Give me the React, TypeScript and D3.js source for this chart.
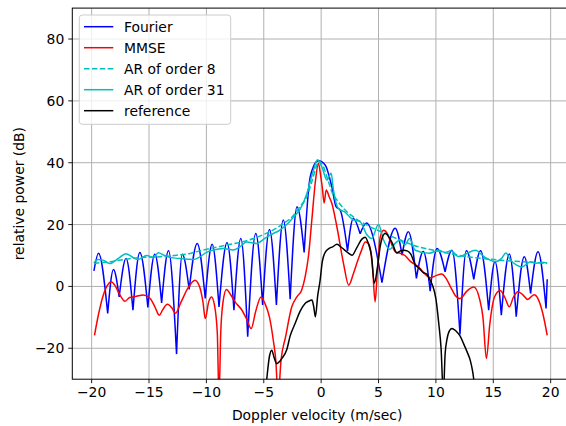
import React from 'react';
import * as d3 from 'd3';

const W = 566;
const H = 426;

const xTicks = [-20, -15, -10, -5, 0, 5, 10, 15, 20];
const yTicks = [-20, 0, 20, 40, 60, 80];
const xLabel = 'Doppler velocity (m/sec)';
const yLabel = 'relative power (dB)';
const seriesNames = ['Fourier', 'MMSE', 'AR of order 8', 'AR of order 31', 'reference'];

const fourier: [number, number][] = [
  [-19.8, 5.0], [-19.4, 10.7], [-18.6, -8.7], [-18.1, 5.5], [-17.6, -3.4], [-17.0, 9], [-16.4, -7.7],
  [-15.8, 11], [-15.1, -6.8], [-14.5, 10.4], [-13.9, -5.3], [-13.3, 11.5], [-12.6, -21.9], [-12.1, 10.4],
  [-11.5, -1], [-10.8, 13.9], [-10.1, -3.9], [-9.5, 13.6], [-8.9, -6.6], [-8.2, 14.2], [-7.6, -7.7],
  [-7.0, 15.5], [-6.4, -16.3], [-5.7, 17.1], [-5.1, -6], [-4.5, 18.4], [-3.9, -6], [-3.3, 21.5],
  [-2.7, -4.1], [-2.1, 25.8], [-1.48, 11], [-0.95, 35.5], [-0.25, 40.6], [0.35, 39.3], [0.93, 32.2],
  [1.3, 25.8], [1.66, 24.7], [2.3, 11.5], [2.8, 22], [3.4, 17], [3.95, 20.5], [5.3, 1.2], [6.45, 18.8],
  [7.05, 10.1], [7.6, 17.7], [8.3, 2.6], [8.9, 11.3], [9.5, -1.5], [10.1, 12.3], [10.8, 4.7], [11.4, 11.7],
  [12.1, -15.5], [12.65, 11.5], [13.3, 2.3], [13.9, 11.5], [14.6, -7.7], [15.15, 8], [15.7, -9.3],
  [16.4, 10.5], [17.0, -9.8], [17.7, 9.6], [18.25, -2.3], [18.9, 11.2], [19.6, -7.1], [19.7, 2.3],
];

const mmse: [number, number][] = [
  [-19.75, -15.8], [-19.4, -9], [-19.0, -3], [-18.6, 0.5], [-18.3, 1.5], [-18.0, 0.5], [-17.5, -3],
  [-17.1, -4.8], [-16.7, -3.6], [-16.1, -3.2], [-15.5, -2.8], [-14.9, -3.9], [-14.5, -6.5], [-14.1, -9.3],
  [-13.8, -7.5], [-13.4, -5.8], [-13.0, -7], [-12.7, -8.7], [-12.2, -5], [-11.6, -0.5], [-11.0, 2.0],
  [-10.6, 0], [-10.3, -5], [-10.1, -10.4], [-9.8, -5], [-9.55, -3.4], [-9.3, -6], [-9.05, -15],
  [-8.9, -36], [-8.75, -15], [-8.55, -5], [-8.25, -1], [-7.9, -2.6], [-7.5, -5], [-6.9, -7.7],
  [-6.5, -10.5], [-6.1, -13.6], [-5.7, -8], [-5.24, -3.4], [-4.9, -5.5], [-4.5, -10], [-4.17, -17.4],
  [-3.95, -24], [-3.75, -36], [-3.5, -24], [-3.1, -16.3], [-2.56, -6.6], [-2.1, -3.3], [-1.7, -1.2],
  [-1.4, 3], [-1.1, 10], [-0.8, 22], [-0.5, 34], [-0.24, 39.8], [-0.05, 36], [0.1, 32], [0.26, 27],
  [0.44, 31.2], [0.7, 29], [0.93, 26.9], [1.37, 19.3], [1.95, 7.4], [2.4, 0.4], [2.8, 4], [3.1, 7.4],
  [3.5, 11.5], [3.84, 14.4], [4.1, 14], [4.3, 11.7], [4.5, 5], [4.7, -5], [4.9, 5], [5.15, 16],
  [5.44, 18.2], [5.7, 17.5], [6.0, 15], [6.46, 11.2], [6.9, 10.7], [7.3, 10], [7.8, 8], [8.2, 7],
  [8.5, 6.3], [8.8, 5], [9.2, 3.5], [9.5, 2.8], [10.0, 3.5], [10.5, 4.0], [10.9, 2.5], [11.3, -0.3],
  [11.7, -3], [12.1, -3.9], [12.7, -1.5], [13.3, -0.2], [13.8, -4], [14.1, -10], [14.4, -23.3],
  [14.7, -12], [15.1, -3.5], [15.6, -1.3], [16.0, -3.5], [16.4, -6.6], [16.75, -3.5], [17.15, -1.7],
  [17.6, -2.8], [18.0, -4.2], [18.55, -2.7], [18.9, -4], [19.3, -8.5], [19.7, -15.8],
];

const ar8: [number, number][] = [
  [-19.8, 7.4], [-19, 7.8], [-18.4, 8], [-17, 8.8], [-15.5, 9.4], [-14, 9.6], [-12.6, 10.1],
  [-11.5, 10.6], [-10.6, 11.5], [-9.5, 12.4], [-8.2, 13.4], [-7, 14.3], [-5.9, 15.5], [-5, 16.8],
  [-4.2, 18.2], [-3.3, 20.3], [-2.4, 23], [-1.8, 26], [-1.25, 29], [-0.8, 34], [-0.4, 39], [-0.2, 40.5],
  [0.1, 39.5], [0.5, 35.5], [1.0, 30], [1.37, 28], [2.0, 25], [2.8, 22.5], [4.0, 19.8], [5.44, 17.3],
  [6.9, 15], [8.3, 13], [9.8, 11.7], [11.2, 10.6], [12.7, 9.6], [14.1, 9], [15.6, 8.5], [17.5, 8],
  [19.7, 7.4],
];

const ar31: [number, number][] = [
  [-19.8, 7.6], [-19.45, 8.7], [-19.0, 8.5], [-18.4, 7.4], [-17.7, 9], [-17.0, 10.6], [-16.5, 9.6],
  [-16.0, 8.7], [-15.2, 10.0], [-14.6, 9.3], [-14.2, 10.9], [-13.7, 10.1], [-13.2, 9.4], [-12.3, 9],
  [-11.6, 8.8], [-11.15, 8.7], [-10.6, 9.5], [-10.0, 11.0], [-9.4, 11.8], [-8.5, 12.3], [-7.66, 11.8],
  [-7.0, 13], [-6.5, 14.4], [-5.6, 13.9], [-5.0, 15.3], [-4.45, 16.6], [-3.6, 18.2], [-3.0, 20],
  [-2.4, 22.5], [-1.83, 25], [-1.25, 30], [-0.67, 37.6], [-0.32, 41], [0.06, 38.7], [0.5, 34.4],
  [0.87, 36.6], [1.07, 31.2], [1.5, 25.2], [2.05, 24.1], [2.8, 21.5], [3.4, 20.9], [4.0, 16.6],
  [4.4, 15.5], [5.0, 20], [5.44, 15], [6.0, 12], [6.46, 14], [6.9, 15], [7.3, 13.4], [7.7, 15.5],
  [8.2, 11.7], [9.4, 10.7], [10.25, 11.7], [10.8, 11], [11.3, 11.5], [12.0, 9.6], [12.6, 10.5],
  [13.45, 11.7], [14.2, 9.6], [15.2, 8], [15.7, 9], [16.1, 10.8], [16.5, 8.5], [17.0, 7], [17.5, 6.3],
  [18.25, 8], [18.8, 7.5], [19.2, 7.8], [19.7, 7.6],
];

const reference: [number, number][] = [
  [-4.9, -36], [-4.74, -30], [-4.5, -22.5], [-4.3, -20.6], [-4.1, -23], [-3.87, -25], [-3.6, -24.2],
  [-3.43, -23.3], [-3.0, -20.5], [-2.7, -16], [-2.27, -12], [-1.83, -8], [-1.4, -5.5], [-1.1, -4.8],
  [-0.8, -4.4], [-0.65, -6.5], [-0.5, -9.8], [-0.3, -3], [-0.09, 2], [0.1, 8], [0.35, 11], [0.7, 12.3],
  [1.0, 12.8], [1.37, 13.6], [1.8, 12.5], [2.3, 11], [2.7, 10.1], [3.1, 12.5], [3.55, 15.3], [3.84, 15.9],
  [4.1, 14], [4.4, 9.6], [4.63, 1], [4.9, 6], [5.15, 13], [5.4, 16.5], [5.6, 17.2], [5.9, 16], [6.2, 14],
  [6.6, 10.8], [6.9, 11.5], [7.2, 11.7], [7.5, 11.5], [7.8, 10.5], [8.2, 7], [8.5, 6], [8.9, 4.5],
  [9.2, 4], [9.5, 2], [9.7, 0.4], [10.0, -4], [10.25, -12], [10.45, -20], [10.65, -35], [10.8, -22],
  [10.97, -17], [11.2, -14.2], [11.4, -13.6], [11.6, -14], [11.85, -14.8], [12.1, -16], [12.4, -18.4],
  [12.7, -21], [13.0, -24], [13.2, -27.5], [13.4, -33],
];

const colors = ['#0000ff', '#ff0000', '#00bfbf', '#00bfbf', '#000000'];

export default function App() {
  const left = 72.3, right = 570, top = 8.1, bottom = 379.2;
  const x = d3.scaleLinear().domain([-21.685, 21.685]).range([left, right]);
  const y = d3.scaleLinear().domain([-30, 90]).range([bottom, top]);

  const line = d3.line<[number, number]>()
    .x(d => x(d[0]))
    .y(d => y(d[1]))
    .curve(d3.curveMonotoneX);

  const cuspPath = (pts: [number, number][]) => {
    const segs: [number, number][][] = [];
    let cur: [number, number][] = [pts[0]];
    for (let i = 1; i < pts.length; i++) {
      cur.push(pts[i]);
      const isMin = i < pts.length - 1 && pts[i][1] < pts[i - 1][1] && pts[i][1] < pts[i + 1][1];
      if (isMin) {
        segs.push(cur);
        cur = [pts[i]];
      }
    }
    segs.push(cur);
    return segs.map(s => line(s) as string).join('');
  };

  const font = 'DejaVu Sans, Liberation Sans, sans-serif';
  const fs = 13.9;
  const fmt = (v: number) => (v < 0 ? '\u2212' + Math.abs(v) : String(v));

  const legendX = 79.3, legendY = 15, rowH = 21;

  return (
    <svg width={W} height={H} style={{ position: 'absolute', left: 0, top: 0, background: '#fff' }}>
      <defs>
        <clipPath id="plotclip">
          <rect x={left} y={top} width={right - left} height={bottom - top} />
        </clipPath>
      </defs>
      <rect x={0} y={0} width={W} height={H} fill="#fff" />
      {xTicks.map(t => (
        <line key={'gx' + t} x1={x(t)} x2={x(t)} y1={top} y2={bottom} stroke="#b0b0b0" strokeWidth={1} />
      ))}
      {yTicks.map(t => (
        <line key={'gy' + t} x1={left} x2={right} y1={y(t)} y2={y(t)} stroke="#b0b0b0" strokeWidth={1} />
      ))}
      <g clipPath="url(#plotclip)" fill="none" strokeWidth={1.5} strokeLinejoin="round">
        <path d={cuspPath(fourier)} stroke={colors[0]} />
        <path d={line(mmse) as string} stroke={colors[1]} />
        <path d={line(ar8) as string} stroke={colors[2]} strokeDasharray="5.5,2.4" />
        <path d={line(ar31) as string} stroke={colors[3]} />
        <path d={line(reference) as string} stroke={colors[4]} />
      </g>
      <rect x={left} y={top} width={right - left} height={bottom - top} fill="none" stroke="#000" strokeWidth={1} />
      {xTicks.map(t => (
        <g key={'tx' + t}>
          <line x1={x(t)} x2={x(t)} y1={bottom} y2={bottom + 4} stroke="#000" strokeWidth={0.9} />
          <text x={x(t)} y={bottom + 18} textAnchor="middle" fontFamily={font} fontSize={fs} fill="#000">{fmt(t)}</text>
        </g>
      ))}
      {yTicks.map(t => (
        <g key={'ty' + t}>
          <line x1={left - 4} x2={left} y1={y(t)} y2={y(t)} stroke="#000" strokeWidth={0.9} />
          <text x={left - 8} y={y(t) + 5} textAnchor="end" fontFamily={font} fontSize={fs} fill="#000">{fmt(t)}</text>
        </g>
      ))}
      <text x={(left + 566) / 2 - 2} y={420} textAnchor="middle" fontFamily={font} fontSize={fs} fill="#000">{xLabel}</text>
      <text transform={`translate(24, ${(top + bottom) / 2}) rotate(-90)`} textAnchor="middle" fontFamily={font} fontSize={fs} fill="#000">{yLabel}</text>
      <rect x={legendX} y={legendY} width={151.4} height={109.3} rx={3} fill="#fff" fillOpacity={0.8} stroke="#cccccc" strokeWidth={1} />
      {seriesNames.map((n, i) => {
        const cy = legendY + 11.7 + i * rowH;
        return (
          <g key={n}>
            <line x1={84} x2={113.3} y1={cy} y2={cy} stroke={colors[i]} strokeWidth={1.5}
              strokeDasharray={i === 2 ? '5.5,2.4' : undefined} />
            <text x={124} y={cy + 5} fontFamily={font} fontSize={fs} fill="#000">{n}</text>
          </g>
        );
      })}
    </svg>
  );
}
